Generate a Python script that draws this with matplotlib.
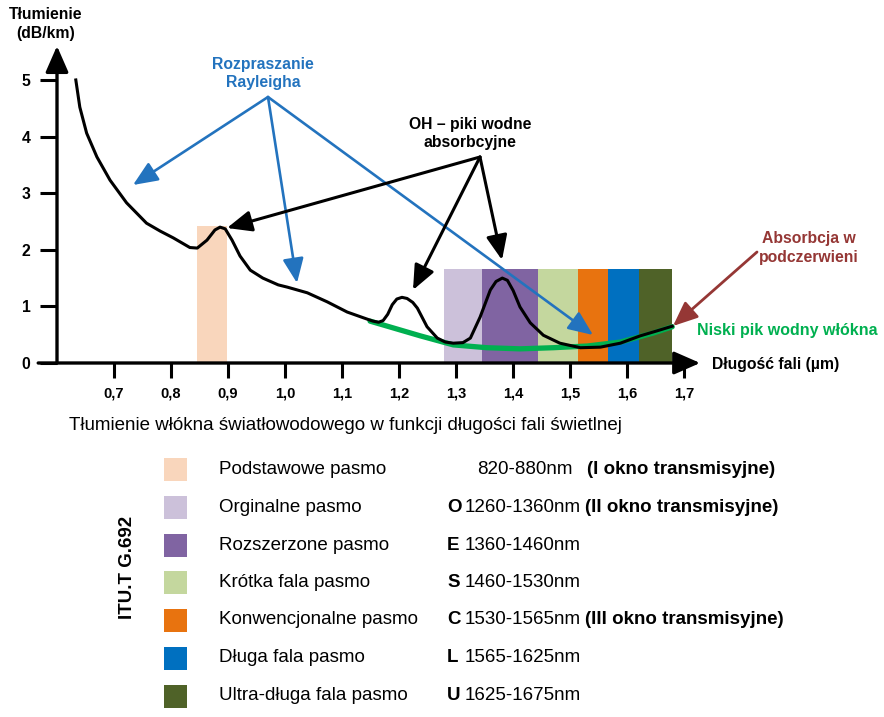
import numpy as np
import matplotlib
matplotlib.use('Agg')
import matplotlib.pyplot as plt
from matplotlib.patches import Rectangle, FancyArrowPatch

plt.rcParams['font.family'] = ['Liberation Sans', 'DejaVu Sans']

# attenuation curve (um, dB/km)
wl = [0.633, 0.640, 0.652, 0.670, 0.693, 0.722, 0.757, 0.781, 0.804, 0.833, 0.846, 0.863, 0.877,
      0.886, 0.895, 0.907, 0.921, 0.939, 0.961, 0.988, 1.004, 1.039, 1.074, 1.109, 1.137, 1.154,
      1.164, 1.172, 1.180, 1.188, 1.196, 1.205, 1.214, 1.224, 1.232, 1.249, 1.267, 1.281, 1.295,
      1.312, 1.325, 1.342, 1.360, 1.370, 1.381, 1.390, 1.400, 1.412, 1.430, 1.453, 1.482, 1.518,
      1.553, 1.588, 1.623, 1.653, 1.679]
att = [5.00, 4.52, 4.06, 3.64, 3.23, 2.83, 2.47, 2.33, 2.21, 2.04, 2.03, 2.17, 2.35,
       2.40, 2.37, 2.17, 1.89, 1.64, 1.50, 1.38, 1.34, 1.24, 1.08, 0.90, 0.80, 0.74,
       0.72, 0.75, 0.86, 1.03, 1.13, 1.16, 1.14, 1.07, 0.97, 0.64, 0.44, 0.37, 0.35,
       0.36, 0.44, 0.81, 1.29, 1.44, 1.50, 1.46, 1.28, 0.99, 0.71, 0.49, 0.35, 0.27,
       0.28, 0.35, 0.48, 0.57, 0.65]

# low water peak fibre
wl_lwp = [1.149, 1.237, 1.295, 1.354, 1.412, 1.470, 1.530, 1.588, 1.646, 1.679]
att_lwp = [0.74, 0.48, 0.32, 0.27, 0.25, 0.27, 0.30, 0.37, 0.53, 0.64]

# bands as drawn (um) and their height
band_lo = [0.846, 1.279, 1.345, 1.443, 1.514, 1.567, 1.620]
band_hi = [0.898, 1.345, 1.443, 1.514, 1.567, 1.620, 1.679]
band_top = [2.42, 1.655, 1.655, 1.655, 1.655, 1.655, 1.655]
band_colors = ['#F9D6BC', '#CCC1DA', '#8064A2', '#C4D79E', '#E8730F', '#0070C0', '#4F6228']
band_names = ['Podstawowe pasmo', 'Orginalne pasmo', 'Rozszerzone pasmo', 'Krótka fala pasmo',
              'Konwencjonalne pasmo', 'Długa fala pasmo', 'Ultra-długa fala pasmo']
band_codes = ['', 'O', 'E', 'S', 'C', 'L', 'U']
band_ranges = ['820-880nm', '1260-1360nm', '1360-1460nm', '1460-1530nm',
               '1530-1565nm', '1565-1625nm', '1625-1675nm']
band_notes = ['(I okno transmisyjne)', '(II okno transmisyjne)', '', '',
              '(III okno transmisyjne)', '', '']

xticks = [0.7, 0.8, 0.9, 1.0, 1.1, 1.2, 1.3, 1.4, 1.5, 1.6, 1.7]
yticks = [0, 1, 2, 3, 4, 5]

W, H = 884, 717
def fp(x, y): return (x / W, 1 - y / H)

BLUE, RED, GREEN = '#2373BE', '#953735', '#00B050'
FS = 11.3    # chart texts
LFS = 13.5   # legend / caption texts

fig = plt.figure(figsize=(W / 100, H / 100), dpi=100)
ax = fig.add_axes([57 / W, 1 - 363 / H, (707 - 57) / W, (363 - 46) / H])
ax.set_xlim(0.6, 1.74)
ax.set_ylim(0, 5.6)
for s in ax.spines.values(): s.set_visible(False)

ax.bar(band_lo, np.array(band_top), width=np.array(band_hi) - np.array(band_lo),
       align='edge', color=band_colors, linewidth=0, zorder=1)
ax.plot(wl_lwp, att_lwp, color=GREEN, lw=3.8, solid_capstyle='round', zorder=2)
ax.plot(wl, att, color='black', lw=2.2, solid_joinstyle='round', zorder=3)

# axes with arrows
head = '-|>,head_length=0.8,head_width=0.35'
ax.annotate('', xy=(1.728, 0), xytext=(0.567, 0),
            arrowprops=dict(arrowstyle=head, lw=2.4, color='black', mutation_scale=20,
                            shrinkA=0, shrinkB=0), annotation_clip=False)
ax.annotate('', xy=(0.6, 5.6), xytext=(0.6, 0),
            arrowprops=dict(arrowstyle=head, lw=2.4, color='black', mutation_scale=20,
                            shrinkA=0, shrinkB=0), annotation_clip=False)

ax.set_xticks(xticks)
ax.set_xticklabels([('%.1f' % v).replace('.', ',') for v in xticks], fontweight='bold', fontsize=10.5)
ax.set_yticks(yticks)
ax.set_yticklabels([str(v) for v in yticks], fontweight='bold', fontsize=FS)
ax.tick_params(axis='x', direction='out', length=11, width=2.2, pad=6)
ax.tick_params(axis='y', direction='out', length=12, width=2.2, pad=7)

# labels
fig.text(*fp(46, 24), 'Tłumienie\n(dB/km)', ha='center', va='center', fontsize=FS,
         fontweight='bold', linespacing=1.3)
fig.text(*fp(712, 364), 'Długość fali (µm)', ha='left', va='center', fontsize=FS, fontweight='bold')
fig.text(*fp(263, 74), 'Rozpraszanie\nRayleigha', ha='center', va='center', fontsize=FS,
         fontweight='bold', color=BLUE, linespacing=1.25)
fig.text(*fp(470, 134), 'OH – piki wodne\nabsorbcyjne', ha='center', va='center', fontsize=FS,
         fontweight='bold', color='black', linespacing=1.25)
fig.text(*fp(809, 248), 'Absorbcja w\npodczerwieni', ha='center', va='center', fontsize=FS,
         fontweight='bold', color=RED, linespacing=1.35)
fig.text(*fp(697, 330), 'Niski pik wodny włókna', ha='left', va='center', fontsize=11.5,
         fontweight='bold', color=GREEN)

def arrow(start, end, color, lw):
    fig.add_artist(FancyArrowPatch(
        fp(*start), fp(*end), transform=fig.transFigure,
        arrowstyle='-|>,head_length=0.75,head_width=0.32', mutation_scale=20,
        color=color, lw=lw, shrinkA=0, shrinkB=0))

for end in [(133, 185), (297, 283), (593, 335)]: arrow((268, 97), end, BLUE, 1.9)
for end in [(227, 228), (413, 290), (502, 260)]: arrow((480, 157), end, 'black', 2.2)
arrow((757, 252), (673, 326), RED, 2.0)

fig.text(*fp(69, 425), 'Tłumienie włókna światłowodowego w funkcji długości fali świetlnej',
         ha='left', va='center', fontsize=LFS)

# legend table
row_y = [469, 507, 545, 582.5, 620, 658, 696]
for i, y in enumerate(row_y):
    x0, y0 = fp(164, y + 11.5)
    fig.add_artist(Rectangle((x0, y0), 23 / W, 23 / H, transform=fig.transFigure,
                             facecolor=band_colors[i], edgecolor='none'))
    fig.text(*fp(219, y), band_names[i], ha='left', va='center', fontsize=LFS)
    if band_codes[i]:
        fig.text(*fp(447, y), band_codes[i], ha='left', va='center', fontsize=LFS, fontweight='bold')
        fig.text(*fp(465, y), band_ranges[i], ha='left', va='center', fontsize=LFS)
        nx = 585
    else:
        fig.text(*fp(477, y), band_ranges[i], ha='left', va='center', fontsize=LFS)
        nx = 587
    if band_notes[i]:
        fig.text(*fp(nx, y), band_notes[i], ha='left', va='center', fontsize=LFS, fontweight='bold')

fig.text(*fp(128, 567), 'ITU.T G.692', ha='center', va='center', rotation=90,
         fontsize=LFS, fontweight='bold')

fig.savefig('out.png', dpi=100)
